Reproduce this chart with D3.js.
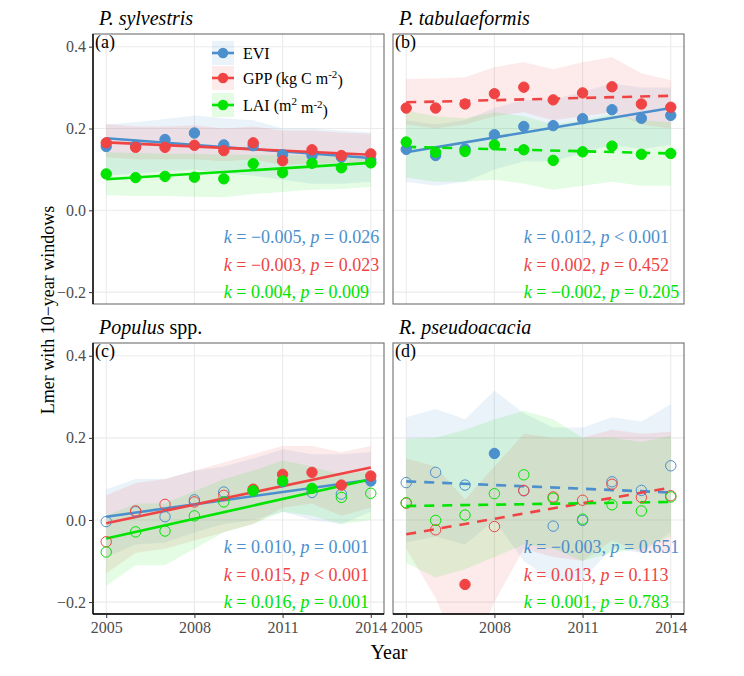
<!DOCTYPE html>
<html><head><meta charset="utf-8">
<script src="https://cdn.jsdelivr.net/npm/d3@7"></script>
<style>
body{margin:0;background:#fff}
svg{display:block;font-family:"Liberation Serif","Times New Roman",serif}
</style>
</head><body>
<svg id="chart" width="744" height="676"></svg>
<script>
// ---------- data ----------
const years = [2005,2006,2007,2008,2009,2010,2011,2012,2013,2014];
const xTickLabels = [2005,2008,2011,2014];
const yTickLabels = [-0.2,0.0,0.2,0.4];
const seriesNames = ["EVI","GPP","LAI"];
const seriesColors = ["#4C8FCD","#F04444","#00E400"];

const panelTitles = [["P. sylvestris",""],["P. tabulaeformis",""],["Populus"," spp."],["R. pseudoacacia",""]];
const panelLabels = ["(a)","(b)","(c)","(d)"];

// panel (a) P. sylvestris
const evi_a = [0.156,0.158,0.173,0.189,0.160,0.158,0.136,0.134,0.130,0.124];
const gpp_a = [0.165,0.154,0.154,0.159,0.146,0.165,0.121,0.148,0.134,0.138];
const lai_a = [0.089,0.080,0.083,0.081,0.077,0.114,0.092,0.115,0.104,0.116];
const evi_lo_a = [0.085,0.090,0.095,0.100,0.090,0.085,0.075,0.065,0.065,0.070];
const evi_hi_a = [0.210,0.215,0.223,0.232,0.225,0.220,0.200,0.200,0.195,0.190];
const gpp_lo_a = [0.130,0.125,0.125,0.125,0.120,0.125,0.110,0.115,0.115,0.118];
const gpp_hi_a = [0.211,0.205,0.205,0.208,0.200,0.205,0.195,0.195,0.190,0.187];
const lai_lo_a = [0.037,0.035,0.035,0.033,0.032,0.040,0.045,0.050,0.052,0.057];
const lai_hi_a = [0.142,0.140,0.138,0.138,0.136,0.136,0.135,0.134,0.132,0.130];
const fit_a = [[0.176,0.128],[0.166,0.136],[0.076,0.116]];
const filled_a = [[1,1,1,1,1,1,1,1,1,1],[1,1,1,1,1,1,1,1,1,1],[1,1,1,1,1,1,1,1,1,1]];
const k_a = [-0.005,-0.003,0.004];
const pOp_a = ["=","=","="];
const p_a = [0.026,0.023,0.009];

// panel (b) P. tabulaeformis
const evi_b = [0.149,0.134,0.150,0.185,0.205,0.207,0.224,0.246,0.225,0.232];
const gpp_b = [0.250,0.250,0.260,0.285,0.301,0.270,0.287,0.302,0.260,0.252];
const lai_b = [0.167,0.142,0.144,0.160,0.148,0.122,0.143,0.157,0.137,0.139];
const evi_lo_b = [0.070,0.060,0.070,0.100,0.120,0.120,0.140,0.160,0.150,0.160];
const evi_hi_b = [0.220,0.210,0.220,0.250,0.270,0.270,0.290,0.310,0.300,0.300];
const gpp_lo_b = [0.210,0.200,0.210,0.230,0.240,0.220,0.230,0.240,0.210,0.200];
const gpp_hi_b = [0.321,0.322,0.325,0.350,0.362,0.345,0.362,0.374,0.335,0.318];
const lai_lo_b = [0.080,0.070,0.070,0.075,0.065,0.050,0.060,0.070,0.060,0.060];
const lai_hi_b = [0.244,0.230,0.225,0.240,0.230,0.210,0.220,0.235,0.220,0.215];
const fit_b = [[0.142,0.250],[0.264,0.280],[0.155,0.139]];
const filled_b = [[1,1,1,1,1,1,1,1,1,1],[1,1,1,1,1,1,1,1,1,1],[1,1,1,1,1,1,1,1,1,1]];
const k_b = [0.012,0.002,-0.002];
const pOp_b = ["<","=","="];
const p_b = [0.001,0.452,0.205];

// panel (c) Populus spp.
const evi_c = [-0.004,0.020,0.008,0.049,0.068,0.072,0.093,0.067,0.063,0.095];
const gpp_c = [-0.053,0.022,0.038,0.044,0.060,0.075,0.111,0.116,0.085,0.107];
const lai_c = [-0.078,-0.029,-0.027,0.010,0.044,0.071,0.095,0.077,0.055,0.065];
const evi_lo_c = [-0.090,-0.060,-0.055,-0.030,-0.010,0.000,0.020,0.000,-0.010,0.020];
const evi_hi_c = [0.075,0.100,0.100,0.120,0.130,0.150,0.172,0.160,0.160,0.165];
const gpp_lo_c = [-0.130,-0.080,-0.070,-0.050,-0.030,-0.010,0.030,0.040,0.010,0.030];
const gpp_hi_c = [0.060,0.090,0.100,0.120,0.140,0.160,0.180,0.180,0.165,0.180];
const lai_lo_c = [-0.160,-0.110,-0.110,-0.070,-0.030,-0.010,0.020,0.010,-0.010,0.000];
const lai_hi_c = [0.010,0.040,0.040,0.070,0.100,0.120,0.145,0.130,0.110,0.120];
const fit_c = [[0.008,0.098],[-0.008,0.128],[-0.045,0.099]];
const filled_c = [[0,0,0,0,0,1,1,0,0,1],[0,0,0,0,0,1,1,1,1,1],[0,0,0,0,0,1,1,1,0,0]];
const k_c = [0.010,0.015,0.016];
const pOp_c = ["=","<","="];
const p_c = [0.001,0.001,0.001];

// panel (d) R. pseudoacacia
const evi_d = [0.091,0.116,0.085,0.162,0.071,-0.015,-0.001,0.093,0.072,0.132];
const gpp_d = [0.041,-0.024,-0.157,-0.016,0.072,0.056,0.048,0.087,0.055,0.059];
const lai_d = [0.042,-0.001,0.012,0.064,0.110,0.053,0.002,0.037,0.022,0.056];
const evi_lo_d = [-0.055,-0.040,-0.060,0.000,-0.100,-0.150,-0.145,-0.070,-0.080,-0.030];
const evi_hi_d = [0.250,0.270,0.245,0.315,0.260,0.225,0.225,0.250,0.240,0.282];
const gpp_lo_d = [-0.070,-0.190,-0.360,-0.200,-0.070,-0.090,-0.100,-0.050,-0.080,-0.080];
const gpp_hi_d = [0.150,0.130,0.050,0.130,0.210,0.200,0.200,0.220,0.210,0.215];
const lai_lo_d = [-0.104,-0.140,-0.120,-0.090,-0.060,-0.070,-0.100,-0.080,-0.070,-0.040];
const lai_hi_d = [0.197,0.200,0.220,0.245,0.266,0.245,0.200,0.200,0.190,0.205];
const fit_d = [[0.094,0.067],[-0.035,0.079],[0.034,0.044]];
const filled_d = [[0,0,0,1,0,0,0,0,0,0],[0,0,1,0,0,0,0,0,0,0],[0,0,0,0,0,0,0,0,0,0]];
const k_d = [-0.003,0.013,0.001];
const pOp_d = ["=","=","="];
const p_d = [0.651,0.113,0.783];

const annotY = [-0.065,-0.133,-0.2];

// ---------- build panel table ----------
const panels = [
  {vals:[evi_a,gpp_a,lai_a], lo:[evi_lo_a,gpp_lo_a,lai_lo_a], hi:[evi_hi_a,gpp_hi_a,lai_hi_a], fit:fit_a, filled:filled_a, k:k_a, op:pOp_a, p:p_a},
  {vals:[evi_b,gpp_b,lai_b], lo:[evi_lo_b,gpp_lo_b,lai_lo_b], hi:[evi_hi_b,gpp_hi_b,lai_hi_b], fit:fit_b, filled:filled_b, k:k_b, op:pOp_b, p:p_b},
  {vals:[evi_c,gpp_c,lai_c], lo:[evi_lo_c,gpp_lo_c,lai_lo_c], hi:[evi_hi_c,gpp_hi_c,lai_hi_c], fit:fit_c, filled:filled_c, k:k_c, op:pOp_c, p:p_c},
  {vals:[evi_d,gpp_d,lai_d], lo:[evi_lo_d,gpp_lo_d,lai_lo_d], hi:[evi_hi_d,gpp_hi_d,lai_hi_d], fit:fit_d, filled:filled_d, k:k_d, op:pOp_d, p:p_d}
];

// ---------- layout ----------
const colX = [[93,384],[393,684]];
const rowY = [[34,304],[343,614]];
const svg = d3.select("#chart");
const fmtK = v => (v < 0 ? "\u2212" : "") + d3.format(".3f")(Math.abs(v));
const fmtP = d3.format(".3f");

panels.forEach((P, i) => {
  const col = i % 2, row = Math.floor(i / 2);
  const [x0, x1] = colX[col], [y0, y1] = rowY[row];
  const x = d3.scaleLinear().domain([2004.55, 2014.45]).range([x0, x1]);
  const y = d3.scaleLinear().domain([-0.229, 0.431]).range([y1, y0]);
  const g = svg.append("g");
  const clipId = "clip" + i;
  svg.append("clipPath").attr("id", clipId).append("rect")
    .attr("x", x0).attr("y", y0).attr("width", x1 - x0).attr("height", y1 - y0);

  // grid
  g.selectAll(".gy").data(yTickLabels).join("line")
    .attr("x1", x0).attr("x2", x1).attr("y1", d => y(d)).attr("y2", d => y(d))
    .attr("stroke", "#ebebeb").attr("stroke-width", 1.1);
  g.selectAll(".gx").data(xTickLabels).join("line")
    .attr("y1", y0).attr("y2", y1).attr("x1", d => x(d)).attr("x2", d => x(d))
    .attr("stroke", "#ebebeb").attr("stroke-width", 1.1);

  const plot = g.append("g").attr("clip-path", `url(#${clipId})`);
  // ribbons
  P.vals.forEach((v, s) => {
    const area = d3.area().x((d, j) => x(years[j])).y0((d, j) => y(P.lo[s][j])).y1((d, j) => y(P.hi[s][j]));
    plot.append("path").attr("d", area(v)).attr("fill", seriesColors[s]).attr("fill-opacity", 0.11);
  });
  // fit lines
  P.vals.forEach((v, s) => {
    const dashed = P.p[s] >= 0.05;
    plot.append("line")
      .attr("x1", x(years[0])).attr("x2", x(years[years.length - 1]))
      .attr("y1", y(P.fit[s][0])).attr("y2", y(P.fit[s][1]))
      .attr("stroke", seriesColors[s]).attr("stroke-width", 2.6)
      .attr("stroke-dasharray", dashed ? "10,8" : null);
  });
  // points
  P.vals.forEach((v, s) => {
    plot.selectAll(null).data(v).join("circle")
      .attr("cx", (d, j) => x(years[j])).attr("cy", d => y(d)).attr("r", 5.2)
      .attr("fill", (d, j) => P.filled[s][j] ? seriesColors[s] : "none")
      .attr("stroke", seriesColors[s]).attr("stroke-width", 1);
  });

  // border
  g.append("rect").attr("x", x0).attr("y", y0).attr("width", x1 - x0).attr("height", y1 - y0)
    .attr("fill", "none").attr("stroke", "#6e6e6e").attr("stroke-width", 1.1);

  // axes
  if (col === 0) {
    const ay = g.append("g").attr("transform", `translate(${x0},0)`)
      .call(d3.axisLeft(y).tickValues(yTickLabels).tickSize(4).tickPadding(3).tickFormat(d3.format(".1f")));
    ay.attr("font-family", null);
    ay.select(".domain").attr("stroke", "#000").attr("stroke-width", 1.4).attr("d", `M0,${y0}V${y1}`);
    ay.selectAll(".tick line").attr("stroke", "#333");
    ay.selectAll(".tick text").attr("fill", "#4d4d4d").style("font-size", "16px")
      .style("font-family", "Liberation Serif").text(d => (d < 0 ? "\u2212" : "") + d3.format(".1f")(Math.abs(d)));
  }
  if (row === 1) {
    const ax = g.append("g").attr("transform", `translate(0,${y1})`)
      .call(d3.axisBottom(x).tickValues(xTickLabels).tickSize(4).tickPadding(4).tickFormat(d3.format("d")));
    ax.attr("font-family", null);
    ax.select(".domain").attr("stroke", "#000").attr("stroke-width", 1.4).attr("d", `M${x0},0H${x1}`);
    ax.selectAll(".tick line").attr("stroke", "#333");
    ax.selectAll(".tick text").attr("fill", "#4d4d4d").style("font-size", "16px").style("font-family", "Liberation Serif");
  }

  // panel label and title
  g.append("text").attr("x", x0 + 2).attr("y", y0 + 14).text(panelLabels[i])
    .style("font-size", "18px").attr("fill", "#000");
  const t = g.append("text").attr("x", x0 + 6).attr("y", y0 - 9).style("font-size", "20px").attr("fill", "#000");
  t.append("tspan").style("font-style", "italic").text(panelTitles[i][0]);
  if (panelTitles[i][1]) t.append("tspan").text(panelTitles[i][1]);

  // annotations
  P.k.forEach((kv, s) => {
    const tx = g.append("text").attr("x", x(2009)).attr("y", y(annotY[s])).attr("dy", "0.35em")
      .attr("fill", seriesColors[s]).style("font-size", "18px");
    tx.append("tspan").style("font-style", "italic").text("k");
    tx.append("tspan").text(" = " + fmtK(kv) + ", ");
    tx.append("tspan").style("font-style", "italic").text("p");
    tx.append("tspan").text(" " + P.op[s] + " " + fmtP(P.p[s]));
  });

  // legend in panel (a)
  if (i === 0) {
    const legY = [53, 78, 105];
    const kx = 212, kw = 22;
    seriesNames.forEach((nm, s) => {
      const lg = g.append("g");
      lg.append("rect").attr("x", kx).attr("y", legY[s] - 12).attr("width", kw).attr("height", 24)
        .attr("fill", seriesColors[s]).attr("fill-opacity", 0.11);
      lg.append("line").attr("x1", kx).attr("x2", kx + kw).attr("y1", legY[s]).attr("y2", legY[s])
        .attr("stroke", seriesColors[s]).attr("stroke-width", 2.6);
      lg.append("circle").attr("cx", kx + kw / 2).attr("cy", legY[s]).attr("r", 5.2).attr("fill", seriesColors[s]);
      const lt = lg.append("text").attr("x", kx + kw + 9).attr("y", legY[s]).attr("dy", "0.35em")
        .style("font-size", "16px").attr("fill", "#000");
      if (s === 0) lt.text("EVI");
      if (s === 1) {
        lt.append("tspan").text("GPP (kg C m");
        lt.append("tspan").attr("dy", "-0.5em").style("font-size", "11px").text("-2");
        lt.append("tspan").attr("dy", "0.5em").text(")");
      }
      if (s === 2) {
        lt.append("tspan").text("LAI (m");
        lt.append("tspan").attr("dy", "-0.5em").style("font-size", "11px").text("2");
        lt.append("tspan").attr("dy", "0.5em").text(" m");
        lt.append("tspan").attr("dy", "-0.5em").style("font-size", "11px").text("-2");
        lt.append("tspan").attr("dy", "0.5em").text(")");
      }
    });
  }
});

// axis titles
svg.append("text").attr("x", 389).attr("y", 659).attr("text-anchor", "middle")
  .style("font-size", "20px").attr("fill", "#000").text("Year");
svg.append("text").attr("transform", "translate(54,310) rotate(-90)").attr("text-anchor", "middle")
  .style("font-size", "18px").attr("fill", "#000").text("Lmer with 10\u2212year windows");
</script>
</body></html>
